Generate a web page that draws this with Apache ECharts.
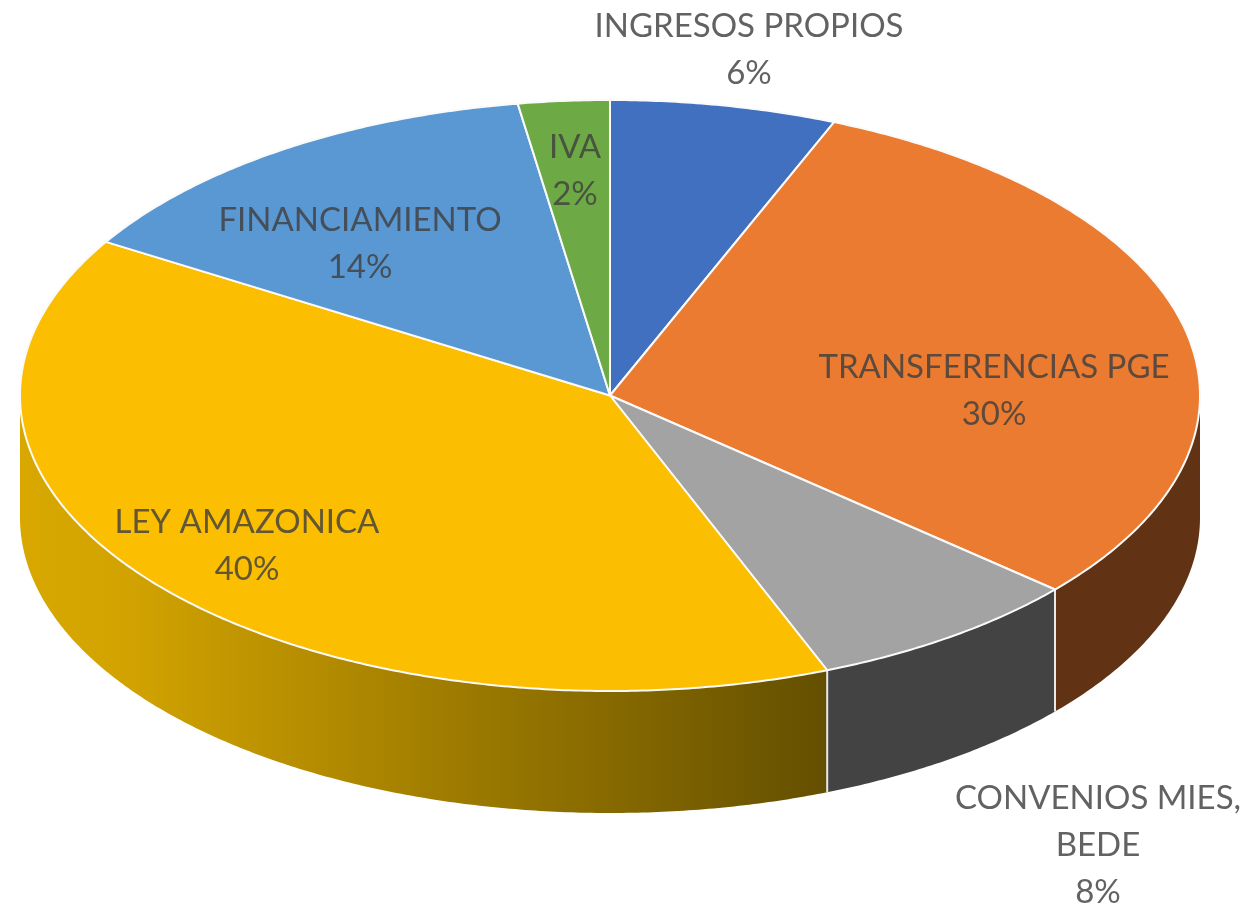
<!DOCTYPE html>
<html>
<head>
<meta charset="utf-8">
<title>Fuentes de ingresos</title>
<script src="https://cdn.jsdelivr.net/npm/echarts@6/dist/echarts.min.js"></script>
<style>
  html, body { margin: 0; height: 100%; background: #fff; }
  #chart { width: 1253px; height: 911px; }
</style>
</head>
<body>
<div id="chart"></div>
<script>
// clockwise from 12 o'clock; shares, labels as printed
const categories = ['INGRESOS PROPIOS', 'TRANSFERENCIAS PGE', 'CONVENIOS MIES,\nBEDE', 'LEY AMAZONICA', 'FINANCIAMIENTO', 'IVA']
const shares = [6.2, 30.2, 7.6, 39.7, 13.8, 2.5]
const printedPercents = ['6%', '30%', '8%', '40%', '14%', '2%']

const topColors = ['#4070BF', '#EA7B31', '#A3A3A3', '#FBBE00', '#5A98D3', '#6DAA46']
const sideColors = ['#2C4A80', '#613214', '#434343', null, '#3A6A96', '#4A7230']
const labelCenters = [[749, 50], [994, 391], [1098, 845], [247, 546], [360, 244], [575, 171]]

const pie = { cx: 610, cy: 395.5, rx: 590, ry: 295.5, depth: 122 }
const total = shares.reduce((sum, value) => sum + value, 0)

const pointAt = (deg, drop = 0) => {
  const rad = (deg * Math.PI) / 180
  return [pie.cx + pie.rx * Math.sin(rad), pie.cy - pie.ry * Math.cos(rad) + drop]
}

const arcPoints = (from, to, drop = 0) => {
  const steps = Math.max(2, Math.ceil((to - from) * 2))
  return Array.from({ length: steps + 1 }, (_, i) => pointAt(from + ((to - from) * i) / steps, drop))
}

const sliceRange = (index) => {
  const before = shares.slice(0, index).reduce((sum, value) => sum + value, 0)
  return [(before / total) * 360, ((before + shares[index]) / total) * 360]
}

const renderSide = (params) => {
  const [start, end] = sliceRange(params.dataIndex)
  const from = Math.max(start, 90)
  const to = Math.min(end, 270)
  if (from >= to) return { type: 'group', children: [] }

  const fill = sideColors[params.dataIndex] || new echarts.graphic.LinearGradient(0, 0, 1, 0, [
    { offset: 0, color: '#D8A800' },
    { offset: 0.13, color: '#D2A300' },
    { offset: 1, color: '#644F00' }
  ])
  const children = [{
    type: 'polygon',
    shape: { points: arcPoints(from, to).concat(arcPoints(from, to, pie.depth).reverse()) },
    style: { fill }
  }]
  if (start >= 90 && start <= 270) {
    const [x, y] = pointAt(start)
    children.push({
      type: 'line',
      shape: { x1: x, y1: y, x2: x, y2: y + pie.depth },
      style: { stroke: '#E8E8E8', lineWidth: 2 }
    })
  }
  return { type: 'group', children }
}

const renderTop = (params) => {
  const [start, end] = sliceRange(params.dataIndex)
  return {
    type: 'polygon',
    shape: { points: [[pie.cx, pie.cy]].concat(arcPoints(start, end)) },
    style: { fill: topColors[params.dataIndex], stroke: '#FAFAFA', lineWidth: 2, lineJoin: 'round' }
  }
}

const renderLabel = (params) => {
  const [x, y] = labelCenters[params.dataIndex]
  return {
    type: 'text',
    style: {
      x,
      y,
      text: `${categories[params.dataIndex]}\n${printedPercents[params.dataIndex]}`,
      align: 'center',
      verticalAlign: 'middle',
      fill: '#404040',
      opacity: 0.82,
      fontFamily: 'Lato',
      fontSize: 33,
      lineHeight: 47
    }
  }
}

const seriesData = shares.map((value, index) => ({ name: categories[index], value }))

const chart = echarts.init(document.getElementById('chart'), null, { renderer: 'canvas' })
chart.setOption({
  animation: false,
  backgroundColor: '#fff',
  series: [renderSide, renderTop, renderLabel].map((renderItem, order) => ({
    type: 'custom',
    coordinateSystem: 'none',
    z: order + 1,
    silent: true,
    renderItem,
    data: seriesData
  }))
})
</script>
</body>
</html>
